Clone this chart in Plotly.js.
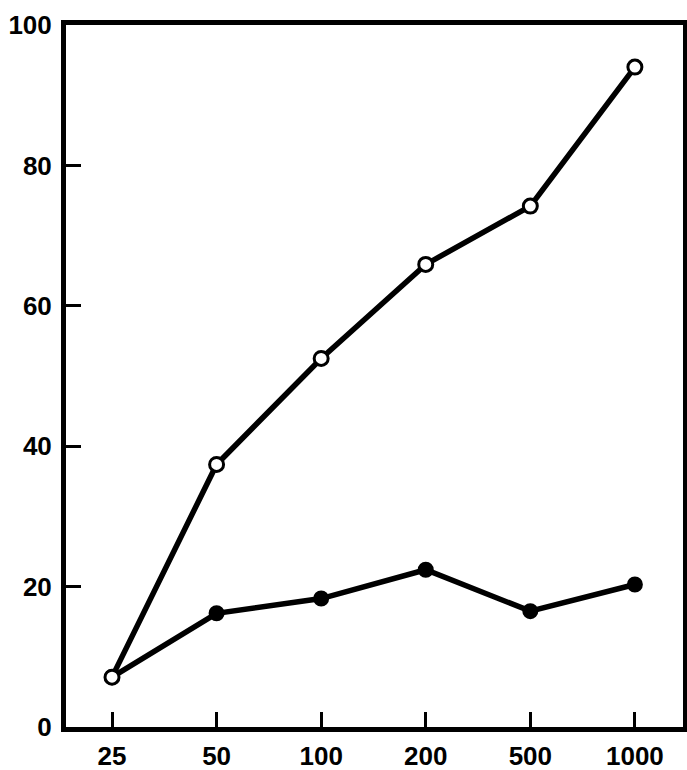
<!DOCTYPE html>
<html><head><meta charset="utf-8">
<script src="https://cdn.plot.ly/plotly-3.0.1.min.js"></script>
<style>body{margin:0;background:#fff}#chart{width:687px;height:770px}</style>
</head><body><div id="chart"></div>
<script>
const categories = ["25", "50", "100", "200", "500", "1000"];
const openSeries = [7.1, 37.4, 52.5, 65.9, 74.2, 94.0];
const filledSeries = [7.1, 16.2, 18.3, 22.4, 16.5, 20.3];
const yTicks = [0, 20, 40, 60, 80, 100];

const traces = [
  {x: categories, y: filledSeries, type: 'scatter', mode: 'lines+markers',
   line: {color: '#000', width: 5.5},
   marker: {symbol: 'circle', size: 14, color: '#000', line: {color: '#000', width: 2}}},
  {x: categories, y: openSeries, type: 'scatter', mode: 'lines+markers',
   line: {color: '#000', width: 5.5},
   marker: {symbol: 'circle', size: 14, color: '#fff', line: {color: '#000', width: 3}}}
];
const tf = {family: 'Liberation Sans, Arial, sans-serif', size: 26, weight: 'bold', color: '#000'};
const layout = {
  width: 687, height: 770, showlegend: false,
  margin: {l: 66, r: 4, t: 25, b: 43},
  paper_bgcolor: '#fff', plot_bgcolor: '#fff',
  font: {family: 'Liberation Sans, Arial, sans-serif', size: 26, color: '#000'},
  xaxis: {type: 'category', range: [-0.44, 5.46], showgrid: false, zeroline: false,
    showline: true, linecolor: '#000', linewidth: 5, mirror: true,
    ticks: 'inside', ticklen: 15, tickwidth: 3, tickcolor: '#000',
    tickfont: tf, ticklabelstandoff: 2},
  yaxis: {range: [0, 100], tickvals: yTicks, ticktext: yTicks.map(String),
    showgrid: false, zeroline: false,
    showline: true, linecolor: '#000', linewidth: 5, mirror: true,
    ticks: 'inside', ticklen: 15, tickwidth: 3, tickcolor: '#000',
    tickfont: tf, ticklabelstandoff: 4}
};
Plotly.newPlot('chart', traces, layout, {displayModeBar: false, staticPlot: true});
</script></body></html>
